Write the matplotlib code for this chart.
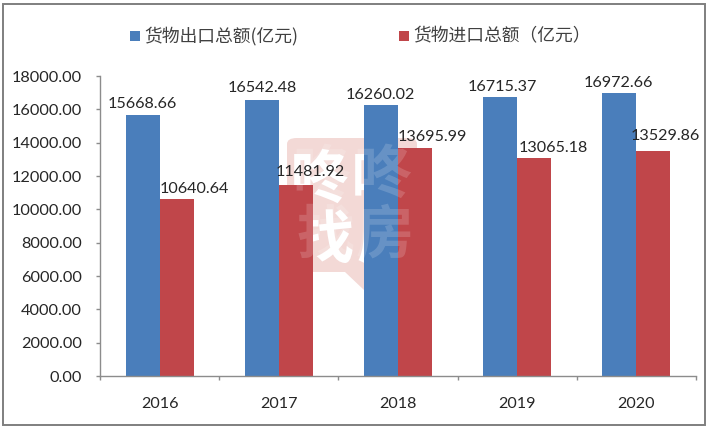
#!/usr/bin/env python3
"""Goods export and import totals 2016-2020, grouped bars with watermark."""

import matplotlib

matplotlib.use("Agg")
import matplotlib.pyplot as plt
import numpy as np
from matplotlib.font_manager import FontProperties
from matplotlib.patches import FancyBboxPatch, PathPatch, Polygon, Rectangle
from matplotlib.textpath import TextPath
from matplotlib.transforms import Affine2D

WIDTH = 708
HEIGHT = 430

years = ["2016", "2017", "2018", "2019", "2020"]
exports = [15668.66, 16542.48, 16260.02, 16715.37, 16972.66]
imports = [10640.64, 11481.92, 13695.99, 13065.18, 13529.86]
export_name = "货物出口总额(亿元)"
import_name = "货物进口总额（亿元）"
y_ticks = [0, 2000, 4000, 6000, 8000, 10000, 12000, 14000, 16000, 18000]

# hand placed label offsets in pixels, like the dragged labels in the original
export_offsets = [(0, 11), (0, 12), (-1, 10), (2, 10), (-1, 10)]
import_offsets = [(18, 10), (15, 13), (17, 11), (19, 10), (12, 15)]

BLUE = "#4a7ebb"
RED = "#c0464a"
PINK = "#f3d9d6"
TEXT = "#262626"
AXIS = "#8c8c8c"
CJK = ["Noto Sans CJK SC", "DejaVu Sans"]

plt.rcParams["font.family"] = ["Lato", "Noto Sans CJK SC", "DejaVu Sans"]


def fx(px):
    return px / WIDTH


def fy(py):
    return 1.0 - py / HEIGHT


def add_labels(ax, xs, values, offsets):
    for x, value, (dx, dy) in zip(xs, values, offsets):
        ax.annotate(
            "{:.2f}".format(value),
            (x, value),
            xytext=(dx * 0.72, dy * 0.72),
            textcoords="offset points",
            ha="center",
            va="center",
            fontsize=11.6,
            color=TEXT,
            zorder=6,
        )


def add_watermark(fig, ax):
    # pink badge sits behind the bars, the glyphs only lighten what is on top
    shape = FancyBboxPatch(
        (fx(287), fy(272)),
        fx(130),
        fy(138) - fy(272),
        boxstyle="round,pad=0,rounding_size=0.014",
        transform=fig.transFigure,
        facecolor=PINK,
        edgecolor="none",
        zorder=-2,
    )
    fig.add_artist(shape)
    tip = Polygon(
        [(fx(345), fy(272)), (fx(390), fy(272)), (fx(364), fy(290))],
        transform=fig.transFigure,
        facecolor=PINK,
        edgecolor="none",
        zorder=-2,
    )
    fig.add_artist(tip)

    marks = [("咚", 321, 176), ("咚", 382, 176), ("找", 325, 236), ("房", 385, 236)]
    prop = FontProperties(family=CJK[0], weight="bold")
    for char, px, py in marks:
        glyph = TextPath((0, 0), char, size=58, prop=prop)
        box = glyph.get_extents()
        place = Affine2D().translate(
            px - (box.x0 + box.x1) / 2, HEIGHT - py - (box.y0 + box.y1) / 2
        )
        fig.add_artist(PathPatch(glyph, transform=place, facecolor="white",
                                 edgecolor="none", zorder=-1))
        ax.text(
            fx(px),
            fy(py),
            char,
            transform=fig.transFigure,
            family=CJK,
            fontweight="bold",
            fontsize=41.7,
            color="white",
            alpha=0.16,
            ha="center",
            va="center",
            zorder=5,
            clip_on=False,
        )


def main():
    fig = plt.figure(figsize=(WIDTH / 100, HEIGHT / 100), dpi=100, facecolor="white")
    ax = fig.add_axes([fx(100), fy(376), fx(596), fy(76) - fy(376)])
    ax.patch.set_visible(False)

    xs = np.arange(len(years))
    bar_width = 0.285
    ax.bar(xs - bar_width / 2, exports, bar_width, color=BLUE, zorder=2)
    ax.bar(xs + bar_width / 2, imports, bar_width, color=RED, zorder=2)

    ax.set_xlim(-0.5, len(years) - 0.5)
    ax.set_ylim(0, 18000)
    ax.set_yticks(y_ticks)
    ax.set_yticklabels(["{:.2f}".format(tick) for tick in y_ticks])
    ax.set_xticks(xs)
    ax.set_xticklabels(years)
    ax.set_xticks(np.arange(len(years) + 1) - 0.5, minor=True)
    ax.tick_params(axis="x", which="major", length=0, pad=15, labelsize=11.6, labelcolor=TEXT)
    ax.tick_params(axis="x", which="minor", length=3, width=1, direction="out", color=AXIS)
    ax.tick_params(axis="y", length=3, width=1, direction="out", color=AXIS, pad=10,
                   labelsize=11.7, labelcolor=TEXT)
    for side in ("top", "right"):
        ax.spines[side].set_visible(False)
    for side in ("left", "bottom"):
        ax.spines[side].set_color(AXIS)
        ax.spines[side].set_linewidth(1)

    add_labels(ax, xs - bar_width / 2, exports, export_offsets)
    add_labels(ax, xs + bar_width / 2, imports, import_offsets)

    # legend placed by hand to match the wide spacing of the original
    legend_items = [(130, BLUE, export_name), (399, RED, import_name)]
    for px, color, name in legend_items:
        fig.add_artist(Rectangle((fx(px), fy(41)), fx(10), fy(31) - fy(41),
                                 transform=fig.transFigure, facecolor=color, edgecolor="none"))
        fig.text(fx(px + 14), fy(36), name, fontsize=12.8, color="#404040",
                 family=CJK, ha="left", va="center")

    add_watermark(fig, ax)

    fig.add_artist(Rectangle((fx(3), fy(425)), fx(702), fy(4) - fy(425),
                             transform=fig.transFigure, facecolor="none",
                             edgecolor="#7f7f7f", linewidth=1.4))

    fig.savefig("out.png", dpi=100)


if __name__ == "__main__":
    main()
